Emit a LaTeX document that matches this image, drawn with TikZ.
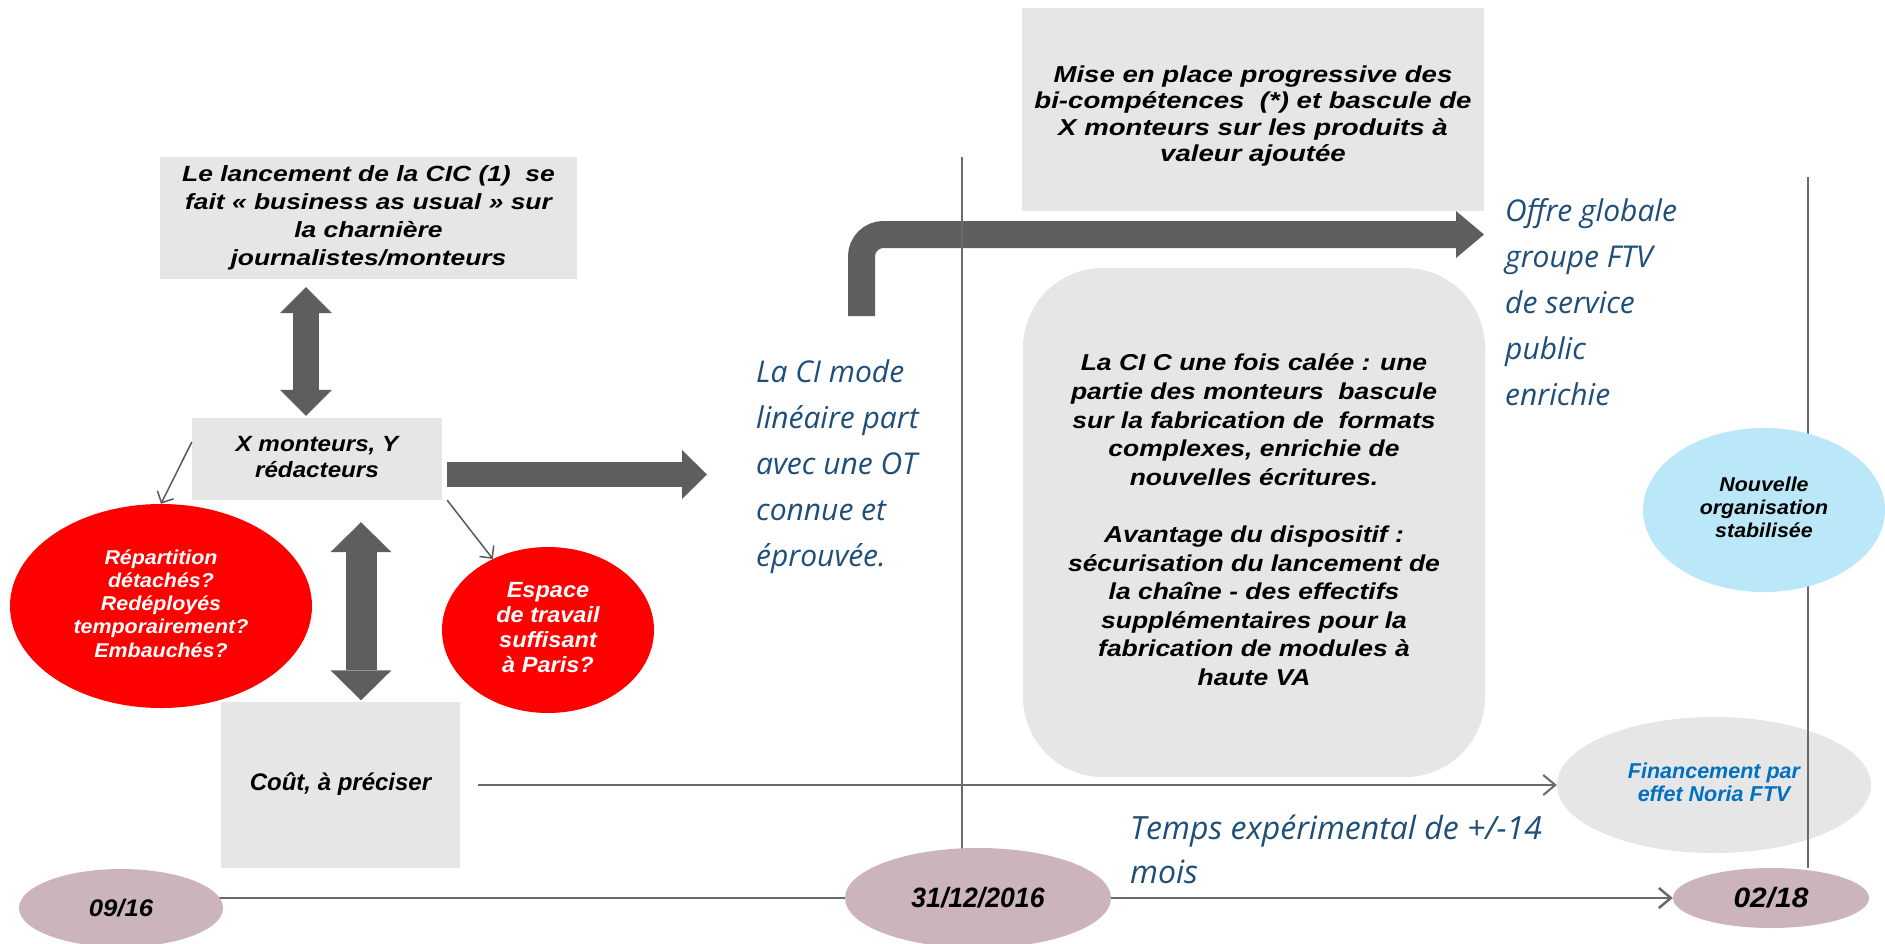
\documentclass[tikz,border=0pt]{standalone}
\usepackage{fontspec}
\usetikzlibrary{shapes.geometric,arrows.meta,calc}
\newfontfamily\LSA{Liberation Sans}[FakeStretch=1.2]
\newfontfamily\LSB{Liberation Sans}[FakeStretch=1.15]
\newfontfamily\LSC{Liberation Sans}[FakeStretch=1.1]
\newfontfamily\LSD{Liberation Sans}[FakeStretch=1.07]
\newfontfamily\LSE{Liberation Sans}
\newfontfamily\LSF{Liberation Sans}[FakeStretch=0.95]
\newfontfamily\OS{Open Sans}
\definecolor{boxgray}{HTML}{E6E6E6}
\definecolor{arrowgray}{HTML}{5E5E5E}
\definecolor{linegray}{HTML}{6A6A6A}
\definecolor{thingray}{HTML}{595959}
\definecolor{redfill}{HTML}{FE0000}
\definecolor{lightblue}{HTML}{BBE8F9}
\definecolor{mauve}{HTML}{CCB5BA}
\definecolor{textblue}{HTML}{1F4E79}
\definecolor{finblue}{HTML}{0070C0}
\newcommand\mlc[1]{\begin{tabular}{@{}c@{}}#1\end{tabular}}
\newcommand\mlt[1]{\begin{tabular}[t]{@{}l@{}}#1\end{tabular}}
\begin{document}
\begin{tikzpicture}[x=1pt,y=-1pt,
  gbox/.style={fill=boxgray,inner sep=0pt},
  oval/.style={ellipse,inner sep=0pt},
  bluetxt/.style={text=textblue,inner sep=0pt,anchor=base west},
  thinarr/.style={draw=thingray,line width=1.5pt,-{Straight Barb[length=9pt,width=18pt]}},
  vline/.style={draw=linegray,line width=2pt},
  tline/.style={draw=linegray,line width=2.5pt},
  openarr/.style={-{Straight Barb[length=12pt,width=20pt]}}
]
\fill[white] (0,0) rectangle (1885,943);
\useasboundingbox (0,0) rectangle (1885,943);

% boxes
\node[gbox,minimum width=417pt,minimum height=122pt,
  font=\LSA\bfseries\itshape\fontsize{22}{28}\selectfont] (b1) at (368.5,218)
  {\mlc{Le lancement de la CIC (1)~ se\\fait « business as usual » sur\\la charnière\\journalistes/monteurs}};
\node[gbox,minimum width=250pt,minimum height=82pt,
  font=\LSC\bfseries\itshape\fontsize{22}{26}\selectfont] (b2) at (317,459)
  {\mlc{X monteurs, Y\\rédacteurs}};
\node[gbox,minimum width=239pt,minimum height=166pt,
  font=\LSE\bfseries\itshape\fontsize{24}{28.8}\selectfont] (b3) at (340.5,785)
  {\mlc{Coût, à préciser}};
\node[gbox,minimum width=462pt,minimum height=203pt] (mise) at (1253,109.5) {};
\node[inner sep=0pt,font=\LSA\bfseries\itshape\fontsize{23}{26.5}\selectfont] (misetxt)
  at ([yshift=-7pt]mise.center)
  {\mlc{Mise en place progressive des\\bi-compétences~ (*) et bascule de\\X monteurs sur les produits à\\valeur ajoutée}};
\node[gbox,rounded corners=80pt,minimum width=462pt,minimum height=509pt,
  font=\LSB\bfseries\itshape\fontsize{23}{28.6}\selectfont] (lacic) at (1254,522.5)
  {\mlc{La CI C une fois calée : une\\partie des monteurs~ bascule\\sur la fabrication de~ formats\\complexes, enrichie de\\nouvelles écritures.\\ \\Avantage du dispositif :\\sécurisation du lancement de\\la chaîne - des effectifs\\supplémentaires pour la\\fabrication de modules à\\haute VA}};

% red ellipses
\node[oval,fill=redfill,minimum width=302pt,minimum height=204pt,text=white,
  font=\LSD\bfseries\itshape\fontsize{20}{23.25}\selectfont] (e1) at (161,606)
  {\mlc{Répartition\\détachés?\\Redéployés\\temporairement?\\Embauchés?}};
\node[oval,fill=redfill,minimum width=212pt,minimum height=166pt,text=white,
  font=\LSD\bfseries\itshape\fontsize{22}{25}\selectfont] (e2) at (548,630)
  {\mlc{Espace\\de travail\\suffisant\\à Paris?}};

% blue texts
\node[bluetxt,font=\OS\itshape\fontsize{30}{46}\selectfont] (lci) at (756,382)
  {\mlt{La CI mode\\linéaire part\\avec une OT\\connue et\\éprouvée.}};
\node[bluetxt,font=\OS\itshape\fontsize{30}{46}\selectfont] (offre) at (1505,221)
  {\mlt{Offre globale\\groupe FTV\\de service\\public\\enrichie}};
\node[bluetxt,font=\OS\itshape\fontsize{32}{44}\selectfont] (temps) at (1130,839)
  {\mlt{Temps expérimental de +/-14\\mois}};

% fat arrows
\coordinate (ax1) at (306,0);
\draw[draw=arrowgray,line width=26pt,
  {Triangle[length=26pt,width=52pt,line width=0pt]}-{Triangle[length=26pt,width=52pt,line width=0pt]},
  shorten <=8pt,shorten >=2pt] (ax1 |- b1.south) -- (ax1 |- b2.north);
\coordinate (ax2) at (361,0);
\draw[draw=arrowgray,line width=31pt,
  {Triangle[length=30pt,width=61pt,line width=0pt]}-{Triangle[length=30pt,width=61pt,line width=0pt]},
  shorten <=22pt,shorten >=1.5pt] (ax2 |- b2.south) -- (ax2 |- b3.north);
\coordinate (h1e) at (707,474.5);
\draw[draw=arrowgray,line width=25pt,-{Triangle[length=25pt,width=49pt,line width=0pt]},
  shorten <=5pt] (b2.east |- h1e) -- (h1e);
\coordinate (bst) at (861.5,316);
\coordinate (ben) at (1484,234.5);
\draw[draw=arrowgray,line width=27pt,rounded corners=22pt,
  -{Triangle[length=28pt,width=47pt,line width=0pt]}] (bst) |- (ben);

% thin arrows
\draw[thinarr] ([yshift=17pt]b2.west) -- (e1.north);
\draw[thinarr] ([xshift=5pt]b2.south east) -- (e2);

% right side
\node[oval,fill=mauve,minimum width=196pt,minimum height=60pt,
  font=\LSD\bfseries\itshape\fontsize{28}{30}\selectfont] (d3) at (1771,898) {02/18};
\node[oval,fill=boxgray,minimum width=314pt,minimum height=136pt,text=finblue,
  font=\LSE\bfseries\itshape\fontsize{21.5}{23}\selectfont] (fin) at (1714,785)
  {\mlc{Financement par\\effet Noria FTV}};
\draw[vline,openarr,shorten <=18pt] (b3.east) -- (fin.west);
\coordinate (v2a) at (1808,177);
\draw[vline] (v2a) -- (v2a |- d3.north);
\node[oval,fill=lightblue,minimum width=242pt,minimum height=164pt,
  font=\LSD\bfseries\itshape\fontsize{20}{23}\selectfont] (nouv) at (1764,510)
  {\mlc{Nouvelle\\organisation\\stabilisée}};

% middle vertical line
\coordinate (v1a) at (962,157);
\coordinate (v1b) at (962,870);
\draw[vline] (v1a) -- (v1b);

% timeline
\node[oval,fill=mauve,minimum width=266pt,minimum height=100pt,
  font=\LSF\bfseries\itshape\fontsize{28}{30}\selectfont] (d2) at (978,898) {31/12/2016};
\draw[tline,openarr] (d2) -- (d3);
\coordinate (t1) at (121,898);
\draw[tline] (t1) -- (d2);
\node[oval,fill=mauve,minimum width=204pt,minimum height=78pt,
  font=\LSD\bfseries\itshape\fontsize{24}{28}\selectfont] (d1) at (121,908) {09/16};
\end{tikzpicture}
\end{document}
